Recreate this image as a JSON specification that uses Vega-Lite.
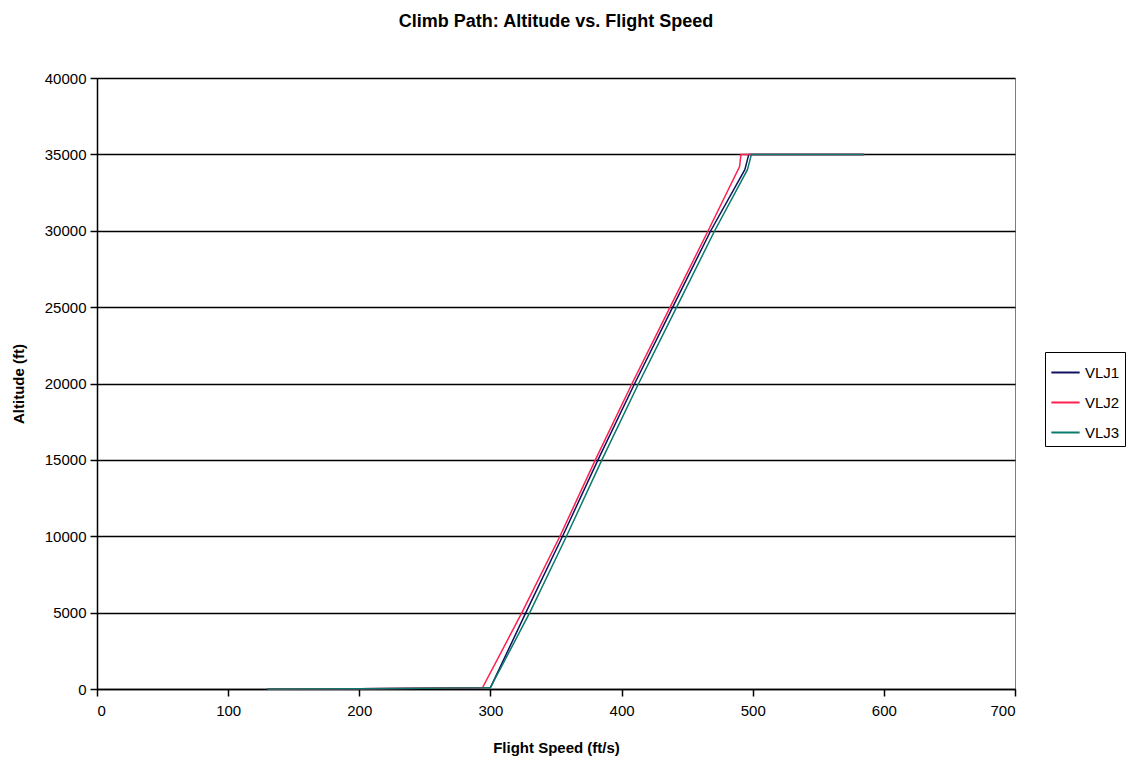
{
  "$schema": "https://vega.github.io/schema/vega-lite/v6.json",
  "width": 918,
  "height": 611,
  "autosize": {"type": "none"},
  "padding": {"left": 97, "top": 78, "right": 115, "bottom": 72},
  "background": "white",
  "title": {
    "text": "Climb Path: Altitude vs. Flight Speed",
    "font": "Liberation Sans",
    "fontSize": 18,
    "fontWeight": "bold",
    "color": "black",
    "anchor": "middle",
    "offset": 40
  },
  "config": {
    "view": {"stroke": "#6b78c8", "strokeWidth": 1},
    "axis": {
      "labelFont": "Liberation Sans",
      "labelFontSize": 15,
      "labelColor": "black",
      "titleFont": "Liberation Sans",
      "titleFontSize": 15,
      "titleFontWeight": "bold",
      "titleColor": "black",
      "domainColor": "black",
      "domainWidth": 1.5,
      "tickColor": "black",
      "tickWidth": 1.5
    }
  },
  "data": {
    "values": [
      {"series": "VLJ1", "ord": 1, "speed": 130, "alt": 0},
      {"series": "VLJ1", "ord": 2, "speed": 200, "alt": 20},
      {"series": "VLJ1", "ord": 3, "speed": 250, "alt": 50},
      {"series": "VLJ1", "ord": 4, "speed": 300, "alt": 90},
      {"series": "VLJ1", "ord": 5, "speed": 327, "alt": 5000},
      {"series": "VLJ1", "ord": 6, "speed": 355, "alt": 10000},
      {"series": "VLJ1", "ord": 7, "speed": 382, "alt": 15000},
      {"series": "VLJ1", "ord": 8, "speed": 410, "alt": 20000},
      {"series": "VLJ1", "ord": 9, "speed": 439, "alt": 25000},
      {"series": "VLJ1", "ord": 10, "speed": 468, "alt": 30000},
      {"series": "VLJ1", "ord": 11, "speed": 494, "alt": 34000},
      {"series": "VLJ1", "ord": 12, "speed": 497, "alt": 35000},
      {"series": "VLJ1", "ord": 13, "speed": 585, "alt": 35000},
      {"series": "VLJ2", "ord": 1, "speed": 130, "alt": 0},
      {"series": "VLJ2", "ord": 2, "speed": 200, "alt": 20},
      {"series": "VLJ2", "ord": 3, "speed": 250, "alt": 50},
      {"series": "VLJ2", "ord": 4, "speed": 294, "alt": 90},
      {"series": "VLJ2", "ord": 5, "speed": 324, "alt": 5000},
      {"series": "VLJ2", "ord": 6, "speed": 353, "alt": 10000},
      {"series": "VLJ2", "ord": 7, "speed": 380, "alt": 15000},
      {"series": "VLJ2", "ord": 8, "speed": 408, "alt": 20000},
      {"series": "VLJ2", "ord": 9, "speed": 437, "alt": 25000},
      {"series": "VLJ2", "ord": 10, "speed": 466, "alt": 30000},
      {"series": "VLJ2", "ord": 11, "speed": 490, "alt": 34200},
      {"series": "VLJ2", "ord": 12, "speed": 491, "alt": 35000},
      {"series": "VLJ2", "ord": 13, "speed": 585, "alt": 35000},
      {"series": "VLJ3", "ord": 1, "speed": 130, "alt": 0},
      {"series": "VLJ3", "ord": 2, "speed": 200, "alt": 20},
      {"series": "VLJ3", "ord": 3, "speed": 250, "alt": 50},
      {"series": "VLJ3", "ord": 4, "speed": 300, "alt": 90},
      {"series": "VLJ3", "ord": 5, "speed": 330, "alt": 5000},
      {"series": "VLJ3", "ord": 6, "speed": 358, "alt": 10000},
      {"series": "VLJ3", "ord": 7, "speed": 385, "alt": 15000},
      {"series": "VLJ3", "ord": 8, "speed": 413, "alt": 20000},
      {"series": "VLJ3", "ord": 9, "speed": 442, "alt": 25000},
      {"series": "VLJ3", "ord": 10, "speed": 471, "alt": 30000},
      {"series": "VLJ3", "ord": 11, "speed": 496, "alt": 34000},
      {"series": "VLJ3", "ord": 12, "speed": 499, "alt": 35000},
      {"series": "VLJ3", "ord": 13, "speed": 585, "alt": 35000}
    ]
  },
  "mark": {"type": "line", "strokeWidth": 1.5},
  "encoding": {
    "x": {
      "field": "speed",
      "type": "quantitative",
      "scale": {"domain": [0, 700], "nice": false},
      "axis": {
        "title": "Flight Speed (ft/s)",
        "values": [0, 100, 200, 300, 400, 500, 600, 700],
        "grid": false,
        "tickSize": 7,
        "labelPadding": 7,
        "titlePadding": 22
      }
    },
    "y": {
      "field": "alt",
      "type": "quantitative",
      "scale": {"domain": [0, 40000], "nice": false},
      "axis": {
        "title": "Altitude (ft)",
        "values": [0, 5000, 10000, 15000, 20000, 25000, 30000, 35000, 40000],
        "format": "d",
        "grid": true,
        "gridColor": "black",
        "gridWidth": 1.5,
        "gridOpacity": 1,
        "tickSize": 7,
        "labelPadding": 4,
        "titlePadding": 18
      }
    },
    "order": {"field": "ord", "type": "quantitative"},
    "color": {
      "field": "series",
      "type": "nominal",
      "scale": {"domain": ["VLJ1", "VLJ2", "VLJ3"], "range": ["#101060", "#ff2050", "#0a7a6a"]},
      "legend": {
        "title": null,
        "orient": "none",
        "legendX": 948,
        "legendY": 274,
        "strokeColor": "black",
        "fillColor": "white",
        "padding": 5,
        "labelFont": "Liberation Sans",
        "labelFontSize": 15,
        "labelColor": "black",
        "labelOffset": 4,
        "symbolType": "stroke",
        "symbolSize": 800,
        "symbolStrokeWidth": 2,
        "rowPadding": 6
      }
    }
  }
}
